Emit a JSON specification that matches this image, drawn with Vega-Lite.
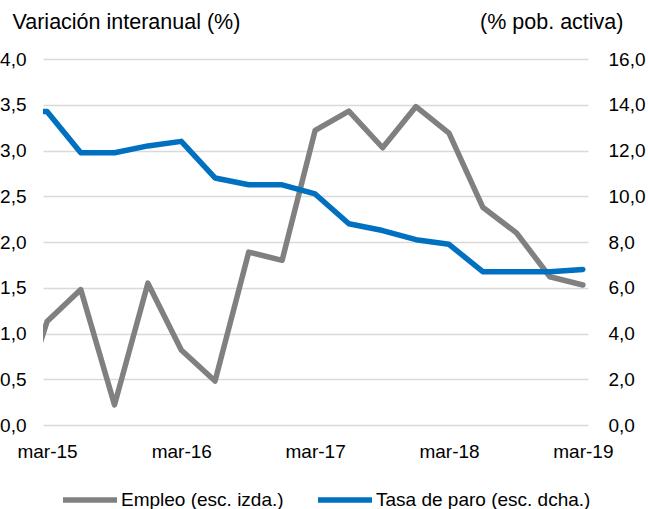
{
  "$schema": "https://vega.github.io/schema/vega-lite/v6.json",
  "width": 545,
  "height": 366,
  "autosize": "none",
  "padding": {"left": 43, "top": 59, "right": 60, "bottom": 84},
  "background": "white",
  "config": {"view": {"stroke": null}, "font": "Liberation Sans"},
  "data": {"values": [
    {"fecha": "2014-12-01", "empleo": 0.0, "paro": 13.7},
    {"fecha": "2015-03-01", "empleo": 1.13, "paro": 13.7},
    {"fecha": "2015-06-01", "empleo": 1.48, "paro": 11.9},
    {"fecha": "2015-09-01", "empleo": 0.22, "paro": 11.9},
    {"fecha": "2015-12-01", "empleo": 1.55, "paro": 12.2},
    {"fecha": "2016-03-01", "empleo": 0.82, "paro": 12.4},
    {"fecha": "2016-06-01", "empleo": 0.48, "paro": 10.8},
    {"fecha": "2016-09-01", "empleo": 1.89, "paro": 10.5},
    {"fecha": "2016-12-01", "empleo": 1.80, "paro": 10.5},
    {"fecha": "2017-03-01", "empleo": 3.22, "paro": 10.1},
    {"fecha": "2017-06-01", "empleo": 3.43, "paro": 8.8},
    {"fecha": "2017-09-01", "empleo": 3.03, "paro": 8.5},
    {"fecha": "2017-12-01", "empleo": 3.48, "paro": 8.1},
    {"fecha": "2018-03-01", "empleo": 3.19, "paro": 7.9},
    {"fecha": "2018-06-01", "empleo": 2.38, "paro": 6.7},
    {"fecha": "2018-09-01", "empleo": 2.10, "paro": 6.7},
    {"fecha": "2018-12-01", "empleo": 1.62, "paro": 6.7},
    {"fecha": "2019-03-01", "empleo": 1.53, "paro": 6.8}
  ]},
  "encoding": {
    "x": {
      "field": "fecha",
      "type": "temporal",
      "scale": {
        "type": "utc",
        "domain": [
          {"year": 2015, "month": 2, "date": 18, "utc": true},
          {"year": 2019, "month": 3, "date": 15, "utc": true}
        ]
      },
      "axis": {
        "title": null,
        "grid": false,
        "domain": false,
        "ticks": false,
        "labelPadding": 17,
        "labelFontSize": 19,
        "labelColor": "#000000",
        "values": [
          {"year": 2015, "month": 3, "date": 1, "utc": true},
          {"year": 2016, "month": 3, "date": 1, "utc": true},
          {"year": 2017, "month": 3, "date": 1, "utc": true},
          {"year": 2018, "month": 3, "date": 1, "utc": true},
          {"year": 2019, "month": 3, "date": 1, "utc": true}
        ],
        "labelExpr": "'mar-' + utcFormat(datum.value, '%y')",
        "labelFlush": false,
        "labelOverlap": false
      }
    }
  },
  "layer": [
    {
      "mark": {"type": "line", "strokeWidth": 5.5, "strokeJoin": "round", "strokeCap": "round", "clip": true},
      "encoding": {
        "y": {
          "field": "empleo",
          "type": "quantitative",
          "scale": {"domain": [0, 4], "nice": false, "zero": false},
          "axis": {
            "orient": "left",
            "values": [0, 0.5, 1, 1.5, 2, 2.5, 3, 3.5, 4],
            "labelExpr": "replace(format(datum.value, '.1f'), '.', ',')",
            "grid": true,
            "gridColor": "#d9d9d9",
            "gridWidth": 1.5,
            "domain": false,
            "ticks": false,
            "labelPadding": 17,
            "labelFontSize": 19,
            "labelColor": "#000000",
            "title": "Variación interanual (%)",
            "titleAngle": 0,
            "titleX": -31,
            "titleY": -37,
            "titleAlign": "left",
            "titleBaseline": "middle",
            "titleFontSize": 21.5,
            "titleFontWeight": "normal",
            "titleColor": "#000000"
          }
        },
        "color": {
          "datum": "Empleo (esc. izda.)",
          "type": "nominal",
          "scale": {
            "domain": ["Empleo (esc. izda.)", "Tasa de paro (esc. dcha.)"],
            "range": ["#808080", "#0070c0"]
          },
          "legend": {
            "orient": "none",
            "direction": "horizontal",
            "legendX": 17,
            "legendY": 411,
            "title": null,
            "symbolType": "stroke",
            "symbolSize": 2916,
            "symbolStrokeWidth": 5.5,
            "labelFontSize": 19,
            "labelColor": "#000000",
            "labelOffset": 1,
            "columnPadding": 23,
            "labelLimit": 400
          }
        }
      }
    },
    {
      "mark": {"type": "line", "strokeWidth": 5.5, "strokeJoin": "round", "strokeCap": "round", "clip": true},
      "encoding": {
        "y": {
          "field": "paro",
          "type": "quantitative",
          "scale": {"domain": [0, 16], "nice": false, "zero": false},
          "axis": {
            "orient": "right",
            "values": [0, 2, 4, 6, 8, 10, 12, 14, 16],
            "labelExpr": "replace(format(datum.value, '.1f'), '.', ',')",
            "grid": false,
            "domain": false,
            "ticks": false,
            "labelPadding": 20,
            "labelFontSize": 19,
            "labelColor": "#000000",
            "title": "(% pob. activa)",
            "titleAngle": 0,
            "titleX": 35,
            "titleY": -37,
            "titleAlign": "right",
            "titleBaseline": "middle",
            "titleFontSize": 21.5,
            "titleFontWeight": "normal",
            "titleColor": "#000000"
          }
        },
        "color": {"datum": "Tasa de paro (esc. dcha.)", "type": "nominal"}
      }
    }
  ],
  "resolve": {"scale": {"y": "independent"}}
}
